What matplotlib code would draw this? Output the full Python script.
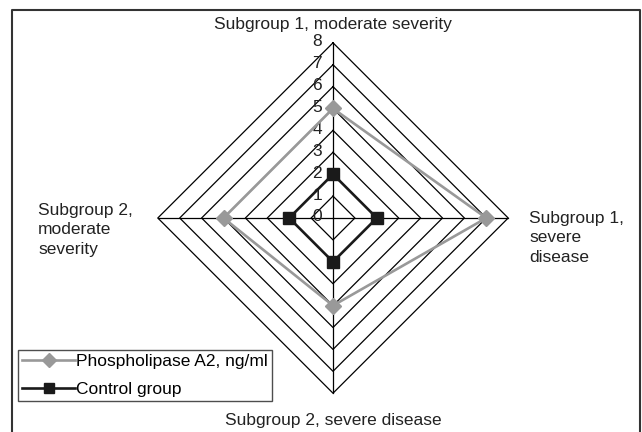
import numpy as np
import matplotlib.pyplot as plt
from matplotlib.lines import Line2D

# axes order: top, right, bottom, left (clockwise from top)
categories = ["Subgroup 1, moderate severity", "Subgroup 1,\nsevere\ndisease",
              "Subgroup 2, severe disease", "Subgroup 2,\nmoderate\nseverity"]
phospholipase = [5, 7, 4, 5]
control = [2, 2, 2, 2]
levels = [0, 1, 2, 3, 4, 5, 6, 7, 8]

plt.rcParams["font.family"] = ["Liberation Sans", "DejaVu Sans"]

fig = plt.figure(figsize=(6.42, 4.32), dpi=100)
ax = fig.add_axes([0, 0, 1, 1])
scale = 21.9
ax.set_xlim(-333 / scale, (642 - 333) / scale)
ax.set_ylim(-(432 - 218) / scale, 218 / scale)
ax.axis("off")

# directions: top, right, bottom, left
dirs = np.array([[0, 1], [1, 0], [0, -1], [-1, 0]])


def to_xy(vals):
    pts = dirs * np.array(vals)[:, None]
    return np.vstack([pts, pts[:1]])


# grid diamonds
for lv in levels[1:]:
    p = to_xy([lv] * 4)
    ax.plot(p[:, 0], p[:, 1], color="black", lw=0.9, zorder=1)
# spokes
for d in dirs:
    ax.plot([0, d[0] * levels[-1]], [0, d[1] * levels[-1]], color="black", lw=0.9, zorder=1)

# level labels
for lv in levels:
    ax.text(-0.5, lv + 0.05, str(lv), ha="right", va="center", fontsize=12.5,
            color="#222222", zorder=2)

p = to_xy(phospholipase)
ax.plot(p[:, 0], p[:, 1], color="#999999", lw=1.9, zorder=3)
ax.plot(p[:-1, 0], p[:-1, 1], ls="none", marker="D", ms=8.5, color="#999999", zorder=3)
c = to_xy(control)
ax.plot(c[:, 0], c[:, 1], color="#1a1a1a", lw=1.9, zorder=4)
ax.plot(c[:-1, 0], c[:-1, 1], ls="none", marker="s", ms=8, color="#1a1a1a", zorder=4)

fs = 12.5
# category labels
ax.text(0, (218 - 24) / scale, categories[0], ha="center", va="center", fontsize=fs, color="#222222")
ax.text((529 - 333) / scale, (218 - 238) / scale, categories[1], ha="left", va="center",
        fontsize=fs, color="#222222", linespacing=1.35)
ax.text(0, (218 - 421) / scale, categories[2], ha="center", va="center", fontsize=fs, color="#222222")
ax.text((38 - 333) / scale, (218 - 230) / scale, categories[3], ha="left", va="center",
        fontsize=fs, color="#222222", linespacing=1.4)

# outer frame (open at bottom)
fx0, fx1 = (12 - 333) / scale, (640 - 333) / scale
fy1 = (218 - 10) / scale
fy0 = (218 - 440) / scale
ax.plot([fx0, fx0, fx1, fx1], [fy0, fy1, fy1, fy0], color="#333333", lw=1.5, clip_on=False)

handles = [
    Line2D([], [], color="#999999", lw=1.9, marker="D", ms=7),
    Line2D([], [], color="#1a1a1a", lw=1.9, marker="s", ms=7.5),
]
leg = ax.legend(handles, ["Phospholipase A2, ng/ml", "Control group"],
                loc="lower left", bbox_to_anchor=(18 / 642, (432 - 401) / 432),
                frameon=True, fancybox=False, fontsize=fs, handlelength=3.05,
                handletextpad=0.05, borderpad=0.25, labelspacing=0.7, borderaxespad=0)
leg.get_frame().set_edgecolor("#222222")
leg.get_frame().set_linewidth(1.0)

fig.savefig("out.png", dpi=100)
